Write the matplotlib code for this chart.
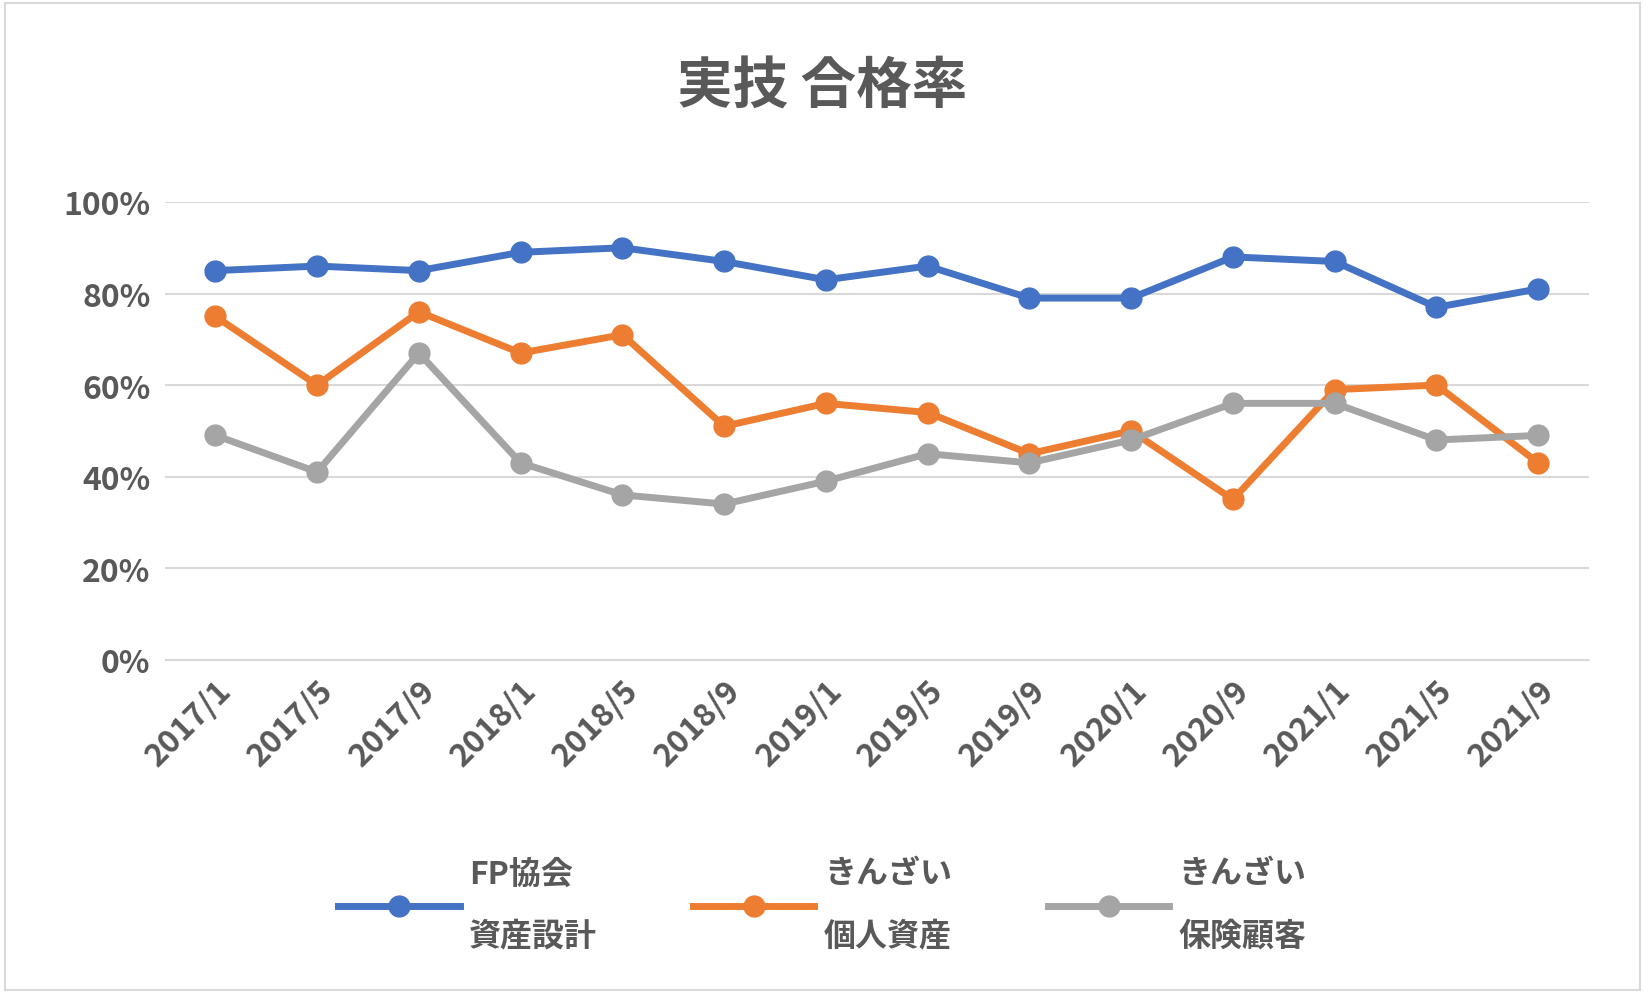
import matplotlib.pyplot as plt
import matplotlib.patches as mpatches
from matplotlib.ticker import PercentFormatter

plt.rcParams['font.family'] = 'Noto Sans CJK JP'

dates = ['2017/1', '2017/5', '2017/9', '2018/1', '2018/5', '2018/9', '2019/1',
         '2019/5', '2019/9', '2020/1', '2020/9', '2021/1', '2021/5', '2021/9']
fp = [85, 86, 85, 89, 90, 87, 83, 86, 79, 79, 88, 87, 77, 81]
kinzai_kojin = [75, 60, 76, 67, 71, 51, 56, 54, 45, 50, 35, 59, 60, 43]
kinzai_hoken = [49, 41, 67, 43, 36, 34, 39, 45, 43, 48, 56, 56, 48, 49]
labels = ['FP協会\n資産設計', 'きんざい\n個人資産', 'きんざい\n保険顧客']
colors = ['#4472C4', '#ED7D31', '#A5A5A5']
text_color = '#595959'

fig = plt.figure(figsize=(16.45, 9.95), dpi=100)
ax = fig.add_axes([0.10, 0.336, 0.866, 0.46])
fig.patches.append(mpatches.Rectangle((0.003, 0.004), 0.994, 0.992, transform=fig.transFigure,
                                      fill=False, edgecolor='#D9D9D9', linewidth=1.5))

x = range(len(dates))
for vals, lab, c in zip([fp, kinzai_kojin, kinzai_hoken], labels, colors):
    ax.plot(x, vals, color=c, linewidth=5, marker='o', markersize=15, label=lab)

ax.set_ylim(0, 100)
ax.set_xlim(-0.5, len(dates) - 0.5)
ax.set_yticks(range(0, 101, 20))
ax.yaxis.set_major_formatter(PercentFormatter(decimals=0))
ax.set_xticks(list(x))
ax.set_xticklabels(dates, rotation=45, ha='right', rotation_mode='anchor')
ax.grid(axis='y', color='#D9D9D9', linewidth=1.5)
ax.set_axisbelow(True)
for s in ['top', 'right', 'left']:
    ax.spines[s].set_visible(False)
ax.spines['bottom'].set_color('#D9D9D9')
ax.tick_params(length=0, labelsize=23, labelcolor=text_color, pad=10)
for t in ax.get_xticklabels() + ax.get_yticklabels():
    t.set_fontweight('bold')

fig.suptitle('実技 合格率', fontsize=40, fontweight='bold', color=text_color, y=0.94)

leg = fig.legend(loc='center', bbox_to_anchor=(0.5, 0.09), ncol=3, frameon=False,
                 fontsize=23, handlelength=3.8, columnspacing=3, handletextpad=0.3)
for t in leg.get_texts():
    t.set_color(text_color)
    t.set_fontweight('bold')
    t.set_linespacing(2.2)
    t.set_multialignment('left')

fig.savefig('out.png', dpi=100)
